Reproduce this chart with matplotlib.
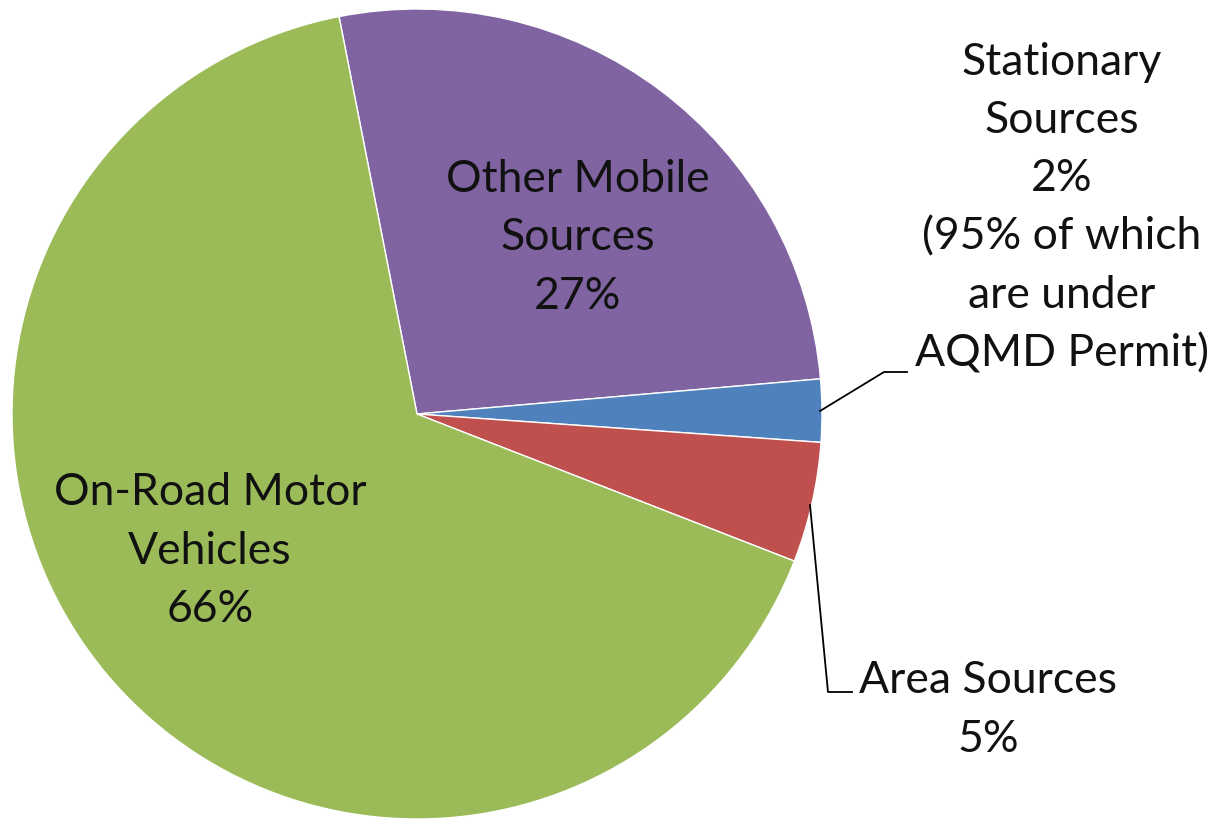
import matplotlib.pyplot as plt

plt.rcParams["font.family"] = ["Lato", "DejaVu Sans"]

# data (clockwise from the purple/green boundary)
labels = ["Other Mobile\nSources", "Stationary\nSources", "Area Sources", "On-Road Motor\nVehicles"]
values = [26.7, 2.5, 4.8, 66.0]
pct_text = ["27%", "2%", "5%", "66%"]
extra = ["", "(95% of which\nare under\nAQMD Permit)", "", ""]
colors = ["#8064A2", "#4F81BD", "#C0504D", "#9BBB59"]

W, H = 1219, 819
fig = plt.figure(figsize=(W / 100, H / 100), dpi=100)
ax = fig.add_axes([0, 0, 1, 1])

cx, cy, r = 417, H - 414, 405
wedges, _ = ax.pie(values, colors=colors, startangle=101.1, counterclock=False,
                   center=(cx, cy), radius=r, frame=True,
                   wedgeprops=dict(edgecolor="white", linewidth=1.0))
ax.set_xlim(0, W)
ax.set_ylim(0, H)
ax.set_aspect("equal")
ax.axis("off")

fs = 32
ls = 1.52


def lab(i):
    t = labels[i] + "\n" + pct_text[i]
    if extra[i]:
        t += "\n" + extra[i]
    return t


kw = dict(ha="center", va="center", fontsize=fs, linespacing=ls, color="#111111")
# inside labels
ax.text(578, H - 238, lab(0), **kw)
ax.text(210, H - 551, lab(3), **kw)
# outside labels
ax.text(1062, H - 208, lab(1), **kw)
ax.text(988, H - 710, lab(2), **kw)

# leader lines
ax.plot([820, 884, 907], [H - 411, H - 372, H - 372], color="black", lw=1.3)
ax.plot([810, 828, 852], [H - 505, H - 692, H - 692], color="black", lw=1.3)

fig.savefig("out.png", dpi=100)
